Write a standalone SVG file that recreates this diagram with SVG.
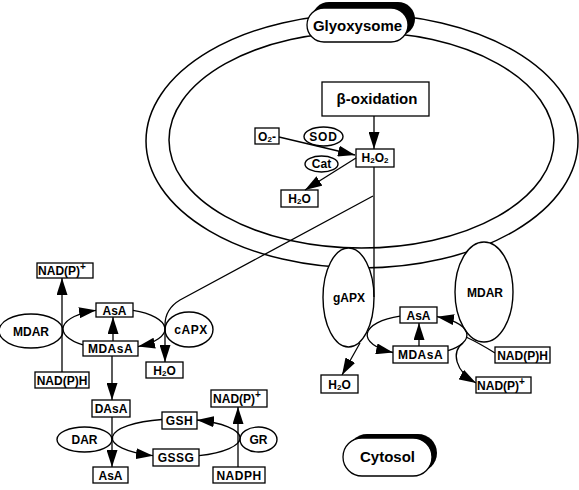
<svg xmlns="http://www.w3.org/2000/svg" width="579" height="490" viewBox="0 0 579 490">
<style>
text{font-family:"Liberation Sans",Arial,sans-serif;font-weight:bold;font-size:12px;text-anchor:middle;fill:#000}
.big{font-size:15px}
.box{fill:#fff;stroke:#000;stroke-width:1.3}
.ell{fill:#fff;stroke:#000;stroke-width:1.4}
.mem{fill:none;stroke:#000;stroke-width:1.5}
.ln{fill:none;stroke:#000;stroke-width:1.3}
.arr{marker-end:url(#a)}
.sub{font-size:8px}
.sup{font-size:10px}
</style>
<defs>
<marker id="a" markerWidth="17" markerHeight="11" refX="17" refY="5.5" orient="auto" markerUnits="userSpaceOnUse"><path d="M0,0 L17,5.5 L0,11 z" fill="#000"/></marker>
</defs>
<rect width="579" height="490" fill="#fff"/>
<g id="membranes">
<ellipse class="mem" cx="362" cy="141" rx="216" ry="127"/>
<ellipse class="mem" cx="361.5" cy="140" rx="192.5" ry="108"/>
</g>
<g id="glyoxysome">
<rect x="312" y="2" width="103" height="34" rx="17" fill="#000"/>
<rect x="307" y="8" width="101" height="34" rx="17" class="box" stroke-width="1.5"/>
<text x="357.5" y="30.5" class="big">Glyoxysome</text>
</g>
<g id="cytosol">
<rect x="348" y="434" width="89" height="38" rx="19" fill="#000"/>
<rect x="343" y="438" width="89" height="38" rx="19" class="box" stroke-width="1.5"/>
<text x="387.5" y="462" class="big">Cytosol</text>
</g>
<g id="betaox"><rect class="box" x="322" y="82" width="107" height="34"/><text x="377" y="104" class="big">β-oxidation</text></g>
<g id="O2"><rect class="box" x="255" y="128" width="24" height="16"/><text x="267" y="141">O<tspan class="sub" dy="1">2</tspan><tspan dy="-1">-</tspan></text></g>
<g id="SOD"><ellipse class="ell" cx="323.5" cy="136.5" rx="19.5" ry="9.5"/><text x="323.5" y="141" letter-spacing="0.8">SOD</text></g>
<g id="H2O2"><rect class="box" x="356" y="149" width="38" height="18"/><text x="375" y="162">H<tspan class="sub" dy="1">2</tspan><tspan dy="-1">O</tspan><tspan class="sub" dy="1">2</tspan></text></g>
<g id="Cat"><ellipse class="ell" cx="321.5" cy="164" rx="16.5" ry="8"/><text x="321.5" y="168">Cat</text></g>
<g id="H2O_g"><rect class="box" x="281" y="190" width="37" height="17"/><text x="299.5" y="203">H<tspan class="sub" dy="1">2</tspan><tspan dy="-1">O</tspan></text></g>
<g id="gAPX"><ellipse class="ell" cx="348.5" cy="297.5" rx="25.5" ry="49.5"/><text x="349" y="302">gAPX</text></g>
<g id="MDAR_r"><ellipse class="ell" cx="484" cy="292" rx="29" ry="50"/><text x="485" y="297">MDAR</text></g>
<g id="MDAR_l"><ellipse class="ell" cx="31" cy="331" rx="32" ry="17"/><text x="31" y="335.5">MDAR</text></g>
<g id="cAPX"><ellipse class="ell" cx="189" cy="329.5" rx="24" ry="17.5"/><text x="191" y="334" letter-spacing="0.5">cAPX</text></g>
<g id="DAR"><ellipse class="ell" cx="84.5" cy="439.5" rx="27.5" ry="12.5"/><text x="84.5" y="444">DAR</text></g>
<g id="GR"><ellipse class="ell" cx="258.5" cy="439.5" rx="18.5" ry="12.5"/><text x="258.5" y="444">GR</text></g>
<g id="connectors">
<path class="ln arr" d="M374,116 L374,149"/>
<path class="ln arr" d="M279,137 L355,155"/>
<path class="ln arr" d="M356,158 L305,190"/>
<path class="ln" d="M374,167 L374,297"/>
<path class="ln arr" d="M373,196 L180,300 Q165,309 165,325 L165,362"/>
<path class="ln arr" d="M360,343 L342,375"/>
<path class="ln arr" d="M400,316.2 A50,20 0 0 0 393,352.5"/>
<path class="ln arr" d="M448,350.7 A50,20 0 0 0 437,316.7"/>
<path class="ln" d="M495,353 Q479,343 466,337"/>
<path class="ln arr" d="M463,343 C451,352 455,371 476,383"/>
<path class="ln arr" d="M419,346 L419,323"/>
<path class="ln arr" d="M83,344.9 A51,20 0 0 1 96,310.3"/>
<path class="ln arr" d="M133,310.4 A51,20 0 0 1 138,346.6"/>
<path class="ln arr" d="M113,341 L113,317"/>
<path class="ln arr" d="M62,372 L62,278"/>
<path class="ln arr" d="M112,356 L112,400"/>
<path class="ln arr" d="M112,417 L112,467"/>
<path class="ln arr" d="M162,419.5 A64,19 0 0 0 153,455.7"/>
<path class="ln arr" d="M199,455.7 A64,19 0 0 0 197,420"/>
<path class="ln arr" d="M238,467 L238,407"/>
</g>
<g id="AsA_r"><rect class="box" x="400" y="307" width="37" height="16"/><text x="418.5" y="319.5">AsA</text></g>
<g id="MDAsA_r"><rect class="box" x="393" y="346" width="55" height="17"/><text x="420.5" y="359" letter-spacing="0.5">MDAsA</text></g>
<g id="NADPH_r"><rect class="box" x="495" y="347" width="55" height="16"/><text x="522.5" y="359.5">NAD(P)H</text></g>
<g id="NADP_r"><rect class="box" x="476" y="377" width="55" height="16"/><text x="501" y="389.5">NAD(P)<tspan class="sup" dy="-5">+</tspan></text></g>
<g id="H2O_r"><rect class="box" x="321" y="375" width="37" height="18"/><text x="339.5" y="388.5">H<tspan class="sub" dy="1">2</tspan><tspan dy="-1">O</tspan></text></g>
<g id="NADP_l"><rect class="box" x="37" y="263" width="56" height="15"/><text x="62" y="275">NAD(P)<tspan class="sup" dy="-5">+</tspan></text></g>
<g id="AsA_l"><rect class="box" x="96" y="303" width="37" height="14"/><text x="114.5" y="314.5">AsA</text></g>
<g id="MDAsA_l"><rect class="box" x="83" y="341" width="55" height="15"/><text x="110.5" y="353" letter-spacing="0.5">MDAsA</text></g>
<g id="H2O_l"><rect class="box" x="146" y="362" width="37" height="16"/><text x="164.5" y="374.5">H<tspan class="sub" dy="1">2</tspan><tspan dy="-1">O</tspan></text></g>
<g id="NADPH_l"><rect class="box" x="35" y="372" width="54" height="16"/><text x="62" y="384.5">NAD(P)H</text></g>
<g id="DAsA"><rect class="box" x="92" y="400" width="38" height="17"/><text x="111" y="412.5">DAsA</text></g>
<g id="AsA_b"><rect class="box" x="93" y="467" width="35" height="16"/><text x="110.5" y="479.5">AsA</text></g>
<g id="GSH"><rect class="box" x="162" y="412" width="35" height="17"/><text x="179.5" y="425" letter-spacing="0.5">GSH</text></g>
<g id="GSSG"><rect class="box" x="153" y="449" width="46" height="17"/><text x="176" y="462" letter-spacing="0.5">GSSG</text></g>
<g id="NADP_b"><rect class="box" x="211" y="390" width="56" height="17"/><text x="237" y="403">NAD(P)<tspan class="sup" dy="-5">+</tspan></text></g>
<g id="NADPH_b"><rect class="box" x="213" y="467" width="52" height="16"/><text x="239" y="479.5" letter-spacing="0.5">NADPH</text></g>
</svg>
